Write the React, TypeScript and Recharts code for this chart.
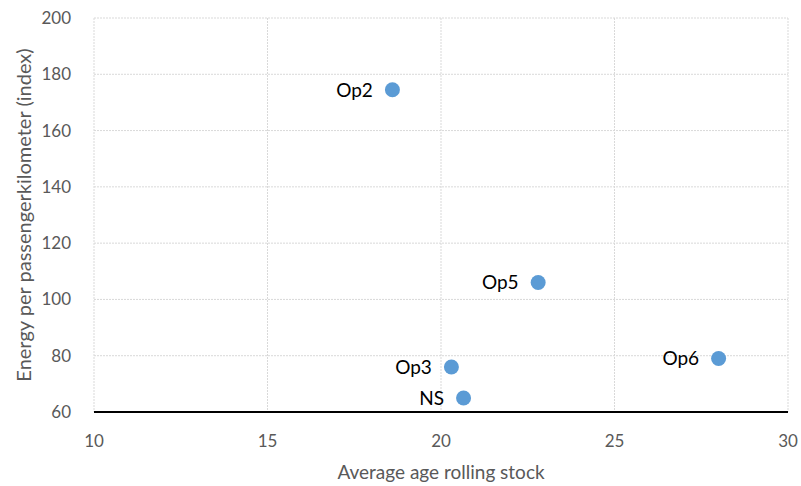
import React from "react";
import { ScatterChart, Scatter, XAxis, YAxis, CartesianGrid, LabelList, ReferenceLine } from "recharts";

const names = ["Op2", "Op5", "Op3", "NS", "Op6"];
const ages = [18.6, 22.8, 20.3, 20.65, 28.0];
const energy = [174.5, 106, 76, 65, 79];
const xTicks = [10, 15, 20, 25, 30];
const yTicks = [60, 80, 100, 120, 140, 160, 180, 200];

const data = names.map((n, i) => ({ name: n, x: ages[i], y: energy[i] }));

const font = "Lato, sans-serif";

export default function App() {
  return (
    <div style={{ position: "absolute", left: 0, top: 0, background: "#fff" }}>
      <ScatterChart width={801} height={486} margin={{ top: 18, right: 13, left: 0, bottom: 0 }}>
        <CartesianGrid stroke="#d9d9d9" strokeDasharray="2 1" />
        <XAxis
          type="number"
          dataKey="x"
          domain={[10, 30]}
          ticks={xTicks}
          height={74}
          axisLine={false}
          tickLine={false}
          tick={{ fill: "#595959", fontSize: 17, fontFamily: font }}
          tickMargin={17}
          label={{ value: "Average age rolling stock", position: "insideBottom", offset: 7, fill: "#595959", fontSize: 19, fontFamily: font }}
        />
        <YAxis
          type="number"
          dataKey="y"
          domain={[60, 200]}
          ticks={yTicks}
          width={94}
          axisLine={false}
          tickLine={false}
          tick={{ fill: "#595959", fontSize: 17, fontFamily: font }}
          tickMargin={17}
          label={{ value: "Energy per passengerkilometer (index)", angle: -90, position: "insideLeft", offset: 24, style: { textAnchor: "middle" }, fill: "#595959", fontSize: 20, fontFamily: font }}
        />
        <ReferenceLine y={60} stroke="#000" strokeWidth={2} />
        <Scatter data={data} fill="#5b9bd5" isAnimationActive={false} shape={(p: any) => <circle cx={p.cx} cy={p.cy} r={7.5} fill="#5b9bd5" />}>
          <LabelList dataKey="name" position="left" offset={15} fill="#000" fontSize={19} fontFamily={font} />
        </Scatter>
      </ScatterChart>
    </div>
  );
}
